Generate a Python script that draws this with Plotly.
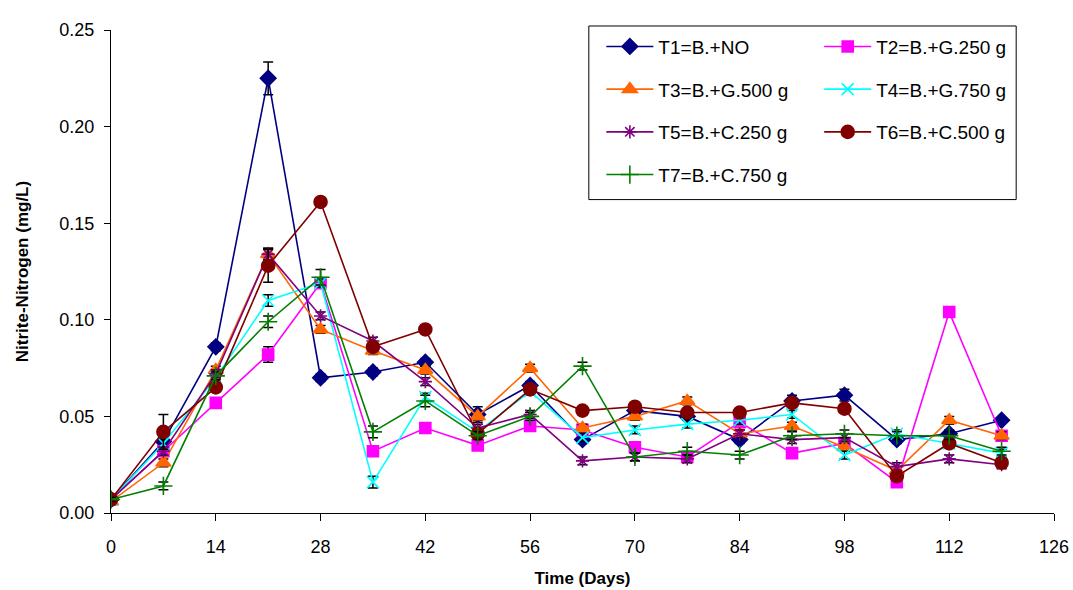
import plotly.graph_objects as go

# Sampling days and nitrite-nitrogen readings (mg/L) per treatment
days = [0, 7, 14, 21, 28, 35, 42, 49, 56, 63, 70, 77, 84, 91, 98, 105, 112, 119]

t1 = [0.007, 0.037, 0.086, 0.225, 0.070, 0.073, 0.078, 0.051, 0.066, 0.038, 0.053, 0.050, 0.038, 0.058, 0.061, 0.038, 0.041, 0.048]
t2 = [0.007, 0.032, 0.057, 0.082, 0.119, 0.032, 0.044, 0.035, 0.045, 0.043, 0.034, 0.029, 0.047, 0.031, 0.036, 0.016, 0.104, 0.040]
t3 = [0.006, 0.026, 0.074, 0.134, 0.095, 0.084, 0.074, 0.050, 0.075, 0.044, 0.050, 0.058, 0.041, 0.045, 0.034, 0.022, 0.048, 0.040]
t4 = [0.007, 0.036, 0.070, 0.110, 0.119, 0.016, 0.060, 0.042, 0.063, 0.039, 0.043, 0.046, 0.048, 0.051, 0.030, 0.041, 0.036, 0.031]
t5 = [0.007, 0.032, 0.072, 0.134, 0.102, 0.089, 0.068, 0.044, 0.051, 0.027, 0.029, 0.028, 0.041, 0.038, 0.039, 0.024, 0.028, 0.025]
t6 = [0.007, 0.042, 0.065, 0.128, 0.161, 0.086, 0.095, 0.041, 0.064, 0.053, 0.055, 0.052, 0.052, 0.057, 0.054, 0.019, 0.036, 0.026]
t7 = [0.007, 0.014, 0.071, 0.099, 0.122, 0.042, 0.058, 0.040, 0.050, 0.076, 0.029, 0.032, 0.030, 0.040, 0.041, 0.040, 0.040, 0.032]

# Standard errors
e1 = [0.001, 0.002, 0.002, 0.0085, 0.002, 0.002, 0.002, 0.004, 0.002, 0.002, 0.002, 0.002, 0.002, 0.003, 0.003, 0.002, 0.002, 0.001]
e2 = [0.001, 0.002, 0.002, 0.004, 0.002, 0.002, 0.002, 0.002, 0.002, 0.002, 0.002, 0.002, 0.002, 0.002, 0.002, 0.002, 0.002, 0.002]
e3 = [0.001, 0.002, 0.002, 0.003, 0.002, 0.002, 0.002, 0.002, 0.002, 0.002, 0.002, 0.002, 0.002, 0.002, 0.002, 0.002, 0.002, 0.002]
e4 = [0.001, 0.002, 0.002, 0.003, 0.002, 0.003, 0.002, 0.002, 0.002, 0.002, 0.002, 0.002, 0.002, 0.002, 0.002, 0.002, 0.002, 0.002]
e5 = [0.001, 0.002, 0.002, 0.003, 0.002, 0.002, 0.002, 0.002, 0.002, 0.002, 0.002, 0.002, 0.002, 0.002, 0.002, 0.002, 0.002, 0.002]
e6 = [0.001, 0.009, 0.002, 0.0085, 0.002, 0.002, 0.002, 0.002, 0.002, 0.002, 0.002, 0.002, 0.002, 0.002, 0.002, 0.002, 0.002, 0.002]
e7 = [0.001, 0.002, 0.002, 0.003, 0.004, 0.003, 0.003, 0.002, 0.002, 0.002, 0.002, 0.002, 0.002, 0.002, 0.002, 0.002, 0.002, 0.002]

names = ["T1=B.+NO", "T2=B.+G.250 g", "T3=B.+G.500 g", "T4=B.+G.750 g",
         "T5=B.+C.250 g", "T6=B.+C.500 g", "T7=B.+C.750 g"]
series = [t1, t2, t3, t4, t5, t6, t7]
errors = [e1, e2, e3, e4, e5, e6, e7]
colors = ["#000080", "#FF00FF", "#FF6600", "#00FFFF", "#800080", "#800000", "#008000"]
symbols = ["diamond", "square", "triangle-up", "x-thin-open", "asterisk-open", "circle", "cross-thin-open"]
sizes = [12, 11, 13, 12, 11, 13, 13]
legend_ids = ["legend", "legend2", "legend", "legend2", "legend", "legend2", "legend"]

FONT = "Liberation Sans, Arial, sans-serif"

fig = go.Figure()
for i in range(7):
    fig.add_trace(go.Scatter(
        x=days, y=series[i], name=names[i], mode="lines+markers",
        line=dict(color=colors[i], width=1.6),
        marker=dict(symbol=symbols[i], size=sizes[i], color=colors[i],
                    line=dict(color=colors[i], width=1.6)),
        error_y=dict(type="data", array=errors[i], color="black", thickness=1.5, width=5),
        legend=legend_ids[i], legendgroup=names[i],
    ))

legend_common = dict(
    font=dict(family=FONT, size=19, color="black"),
    bgcolor="rgba(0,0,0,0)", borderwidth=0,
    traceorder="grouped", tracegroupgap=15, itemwidth=47,
    xanchor="left", yanchor="top",
)

fig.update_layout(
    width=1073, height=590,
    margin=dict(l=111, r=19, t=30, b=77),
    paper_bgcolor="white", plot_bgcolor="white",
    font=dict(family=FONT, size=18, color="black"),
    showlegend=True,
    legend=dict(x=0.52, y=1.005, **legend_common),
    legend2=dict(x=0.751, y=1.005, **legend_common),
    xaxis=dict(
        range=[0, 126], tickmode="linear", tick0=0, dtick=14,
        showline=True, linecolor="black", linewidth=1.2,
        ticks="outside", ticklen=7, tickcolor="black", tickwidth=1.2,
        showgrid=False, zeroline=False, ticklabelstandoff=10, automargin=False,
        title=dict(text="<b>Time (Days)</b>", font=dict(family=FONT, size=17), standoff=16),
    ),
    yaxis=dict(
        range=[0, 0.25], tickmode="linear", tick0=0, dtick=0.05, tickformat=".2f",
        showline=True, linecolor="black", linewidth=1.2,
        ticks="outside", ticklen=6, tickcolor="black", tickwidth=1.2,
        showgrid=False, zeroline=False, ticklabelstandoff=6, automargin=False,
        title=dict(text="<b>Nitrite-Nitrogen (mg/L)</b>", font=dict(family=FONT, size=17), standoff=26),
    ),
    shapes=[dict(type="rect", xref="paper", yref="paper",
                 x0=0.5067, x1=0.9599, y0=0.6489, y1=1.0083,
                 line=dict(color="black", width=1), fillcolor="rgba(0,0,0,0)")],
)

fig.write_html("out.html")
